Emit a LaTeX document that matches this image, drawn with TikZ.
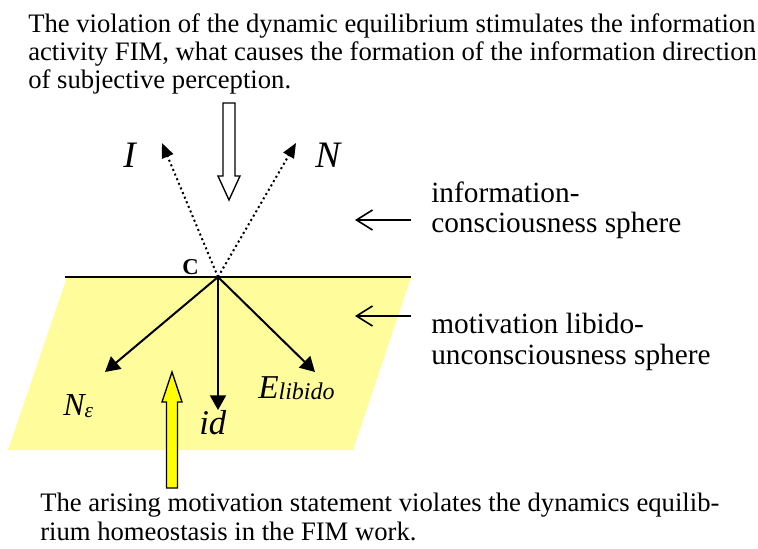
\documentclass[tikz,border=0pt]{standalone}
\usepackage{fontspec}
\setmainfont{Liberation Serif}
\usetikzlibrary{arrows.meta,positioning}
\definecolor{paleyellow}{RGB}{255,252,155}
\definecolor{brightyellow}{RGB}{255,255,0}
\tikzset{
  texto/.style={
    anchor=base west,
    inner sep=0pt,
    align=left,
    font=\fontsize{20}{21}\selectfont
  },
  esfera/.style={
    texto,
    font=\fontsize{22}{23}\selectfont
  },
  letra/.style={
    anchor=base west,
    inner sep=0pt,
    font=\itshape\fontsize{28}{30}\selectfont
  },
  vector/.style={
    -{Triangle[length=11pt,width=12pt]},
    line width=1.5pt
  },
  punteado/.style={
    -{Triangle[length=11pt,width=9pt]},
    line width=1.5pt,
    dash pattern=on 1.5pt off 2.25pt
  },
  senal/.style={
    -{Straight Barb[length=12pt,width=15pt]},
    line width=1.2pt
  },
  bloque/.style={
    draw=black,
    line width=1pt,
    line join=miter
  }
}
\begin{document}
\begin{tikzpicture}[x=0.75pt,y=-0.75pt]
\useasboundingbox (0,0) rectangle (758,549);
% planes
\fill[paleyellow] (67,277) -- (411,277) -- (353,450) -- (8,450) -- cycle;
\draw[line width=1.5pt] (65,277) -- (411,277);
% point C and arrow ends
\coordinate (c) at (218,277);
\coordinate (pI) at (162,143);
\coordinate (pN) at (296,143);
\coordinate (pNe) at (105,372);
\coordinate (pid) at (218,410);
\coordinate (pE) at (315,372);
\node[anchor=base west, inner sep=0pt, font=\bfseries\fontsize{17}{17}\selectfont] (lc) at (182,275) {C};
% block arrows
\draw[bloque, fill=white] (223,103) -- (235,103) -- (235,176) -- (240,176) -- (229,200) -- (218,176) -- (223,176) -- cycle;
\draw[bloque, fill=brightyellow] (166.5,488) -- (177.5,488) -- (177.5,402) -- (182,402) -- (172,372) -- (162,402) -- (166.5,402) -- cycle;
% vectors
\draw[punteado] (c) -- (pI);
\draw[punteado] (c) -- (pN);
\draw[vector] (c) -- (pNe);
\draw[vector] (c) -- (pid);
\draw[vector] (c) -- (pE);
% labels
\node[letra] (I) at (123,168) {I};
\node[letra] (N) at (315,168) {N};
\node[letra, font=\itshape\fontsize{24}{24}\selectfont] (Ne) at (63,416) {N\raisebox{-1pt}{\fontsize{16}{16}\selectfont ε}};
\node[letra, font=\itshape\fontsize{26}{26}\selectfont] (id) at (199,435) {id};
\node[letra, font=\itshape\fontsize{25}{25}\selectfont] (E) at (258,398) {E\raisebox{-1.5pt}{\fontsize{18}{18}\selectfont libido}};
% spheres
\node[esfera] (inf) at (431,233) {information-\\consciousness sphere};
\node[esfera] (mot) at (431,364) {motivation libido-\\unconsciousness sphere};
\coordinate (a1) at (411,220);
\coordinate (b1) at (355,220);
\coordinate (a2) at (411,316);
\coordinate (b2) at (355,316);
\draw[senal] (a1) -- (b1);
\draw[senal] (a2) -- (b2);
% texts
\node[texto] (top) at (28,89) {The violation of the dynamic equilibrium stimulates the information\\activity FIM, what causes the formation of the information direction\\of subjective perception.};
\node[texto] (bot) at (40,540) {The arising motivation statement violates the dynamics equilib-\\rium homeostasis in the FIM work.};
\end{tikzpicture}
\end{document}
